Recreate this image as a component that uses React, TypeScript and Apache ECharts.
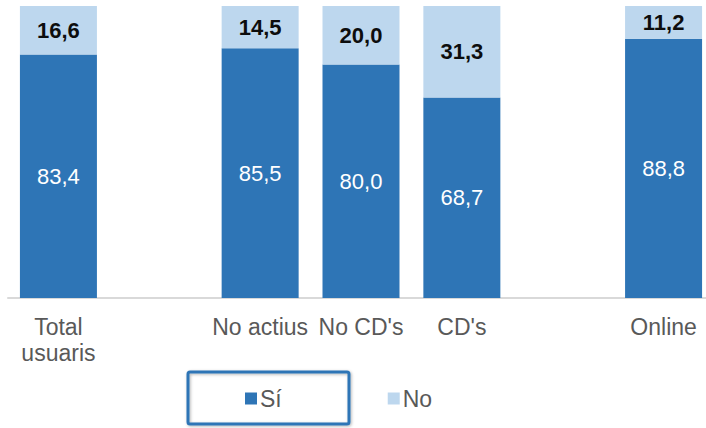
import React, { useEffect, useRef } from "react";
import * as echarts from "echarts";

const categories = ["Total\nusuaris", "", "No actius", "No CD's", "CD's", "", "Online"];
const siValues: (number | string)[] = [83.4, "-", 85.5, 80.0, 68.7, "-", 88.8];
const noValues: (number | string)[] = [16.6, "-", 14.5, 20.0, 31.3, "-", 11.2];
const seriesNames = ["Sí", "No"];

const DARK = "#2E75B6";
const LIGHT = "#BDD7EE";
const FONT = "'Liberation Sans', Arial, sans-serif";

const fmt = (p: any) =>
  typeof p.value === "number" ? p.value.toFixed(1).replace(".", ",") : "";

export default function App() {
  const ref = useRef<HTMLDivElement>(null);
  useEffect(() => {
    if (!ref.current) return;
    const chart = echarts.init(ref.current, null, { renderer: "svg" });
    chart.setOption({
      animation: false,
      backgroundColor: "#ffffff",
      textStyle: { fontFamily: FONT },
      grid: { left: 8, top: 6, right: 1, bottom: 130, containLabel: false },
      xAxis: {
        type: "category",
        data: categories,
        axisTick: { show: false },
        axisLine: { lineStyle: { color: "#d9d9d9", width: 2 } },
        axisLabel: {
          interval: 0,
          color: "#595959",
          fontSize: 23,
          lineHeight: 26,
          margin: 16,
          fontFamily: FONT,
        },
      },
      yAxis: {
        type: "value",
        min: 0,
        max: 100,
        show: false,
        splitLine: { show: false },
      },
      legend: {
        data: seriesNames,
        left: 245,
        top: 387,
        padding: 0,
        itemWidth: 12,
        itemHeight: 12,
        itemGap: 106,
        icon: "rect",
        selectedMode: false,
        textStyle: { color: "#595959", fontSize: 23, fontFamily: FONT, padding: [0, 0, 0, -2] },
      },
      graphic: [
        {
          type: "rect",
          shape: { x: 188, y: 372, width: 161, height: 52, r: 2 },
          style: {
            fill: "none",
            stroke: DARK,
            lineWidth: 3,
            shadowBlur: 3,
            shadowColor: "rgba(0,0,0,0.3)",
            shadowOffsetX: 1,
            shadowOffsetY: 1,
          },
          z: 10,
        },
      ],
      series: [
        {
          name: seriesNames[0],
          type: "bar",
          stack: "total",
          barWidth: 77,
          data: siValues,
          itemStyle: { color: DARK },
          label: {
            show: true,
            position: "inside",
            color: "#ffffff",
            fontSize: 22,
            fontFamily: FONT,
            formatter: fmt,
          },
        },
        {
          name: seriesNames[1],
          type: "bar",
          stack: "total",
          barWidth: 77,
          data: noValues,
          itemStyle: { color: LIGHT },
          label: {
            show: true,
            position: "inside",
            color: "#0d0d0d",
            fontWeight: "bold",
            fontSize: 22,
            fontFamily: FONT,
            formatter: fmt,
          },
        },
      ],
    });
    return () => chart.dispose();
  }, []);
  return (
    <div
      style={{
        position: "absolute",
        left: 0,
        top: 0,
        width: 706,
        height: 428,
        overflow: "hidden",
        background: "#ffffff",
      }}
    >
      <div ref={ref} style={{ width: 715, height: 428 }} />
    </div>
  );
}
